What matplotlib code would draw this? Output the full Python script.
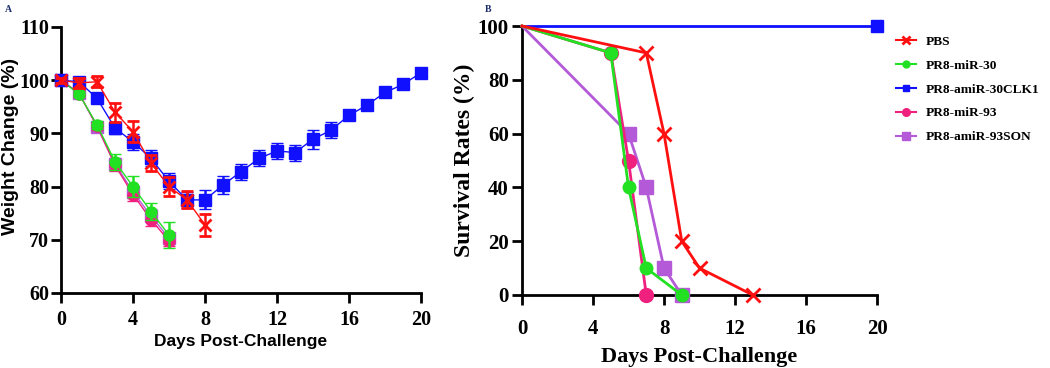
import matplotlib
matplotlib.use("Agg")
import matplotlib.pyplot as plt
import numpy as np

# ---------------- data ----------------
series_names = ["PBS", "PR8-miR-30", "PR8-amiR-30CLK1", "PR8-miR-93", "PR8-amiR-93SON"]
colors = {"PBS": "#ff1010", "PR8-miR-30": "#22e022", "PR8-amiR-30CLK1": "#1010ff",
          "PR8-miR-93": "#f0207f", "PR8-amiR-93SON": "#b45ad8"}
markers = {"PBS": "x", "PR8-miR-30": "o", "PR8-amiR-30CLK1": "s",
           "PR8-miR-93": "o", "PR8-amiR-93SON": "s"}

# Panel A: weight change (%)
w_days_pbs = [0, 1, 2, 3, 4, 5, 6, 7, 8]
w_pbs = [100, 99.5, 99.7, 94.0, 90.3, 84.4, 80.0, 77.5, 72.8]
w_pbs_err = [0.5, 1.0, 1.0, 1.8, 2.0, 1.5, 1.8, 1.6, 2.0]

w_days_short = [0, 1, 2, 3, 4, 5, 6]
w_mir30 = [100, 97.4, 91.6, 84.7, 80.0, 75.3, 70.9]
w_mir30_err = [0.5, 0.6, 0.8, 1.5, 2.0, 1.6, 2.4]
w_mir93 = [100, 97.5, 91.4, 84.0, 78.5, 73.8, 69.8]
w_mir93_err = [0.5, 0.6, 0.8, 1.0, 1.2, 1.2, 1.0]
w_son = [100, 97.6, 91.2, 84.3, 79.0, 74.5, 70.3]
w_son_err = [0.5, 0.6, 0.8, 1.0, 1.2, 1.2, 1.0]

w_days_clk = list(range(0, 21))
w_clk = [100, 99.7, 96.6, 91.0, 88.4, 85.3, 81.0, 77.5, 77.5, 80.3, 82.8,
         85.3, 86.7, 86.4, 88.9, 90.6, 93.4, 95.3, 97.7, 99.2, 101.4]
w_clk_err = [0.5, 0.8, 0.8, 1.2, 1.5, 1.5, 1.5, 1.5, 1.8, 1.6, 1.5,
             1.5, 1.5, 1.5, 1.8, 1.5, 0.8, 0.6, 0.5, 0.5, 0.5]

# Panel B: survival (%)
s_days_pbs = [0, 7, 8, 9, 10, 13]
s_pbs = [100, 90, 60, 20, 10, 0]
s_days_mir30 = [0, 5, 6, 7, 9]
s_mir30 = [100, 90, 40, 10, 0]
s_days_clk = [0, 20]
s_clk = [100, 100]
s_days_mir93 = [0, 5, 6, 7]
s_mir93 = [100, 90, 50, 0]
s_days_son = [0, 6, 7, 8, 9]
s_son = [100, 60, 40, 10, 0]

# ---------------- figure ----------------
fig = plt.figure(figsize=(10.5, 3.68), dpi=100)
serif = "Liberation Serif"
sans = "Liberation Sans"

axA = fig.add_axes([61/1050, 1-293/368, 360/1050, 266/368])
axB = fig.add_axes([522/1050, 1-295/368, 355/1050, 269/368])

def style(ax, size, xpad, ypad):
    for s in ["top", "right"]:
        ax.spines[s].set_visible(False)
    for s in ["left", "bottom"]:
        ax.spines[s].set_linewidth(2.0)
    ax.tick_params(direction="out", length=7, width=2.0)
    ax.tick_params(axis="x", pad=xpad)
    ax.tick_params(axis="y", pad=ypad)
    for lab in ax.get_xticklabels() + ax.get_yticklabels():
        lab.set_fontfamily(serif)
        lab.set_fontweight("bold")
        lab.set_fontsize(size)

# Panel A
def eb(ax, x, y, e, name, ms, lw=1.0, mew=1.0, z=2):
    ax.errorbar(x, y, yerr=e, color=colors[name], marker=markers[name], ms=ms,
                lw=lw, elinewidth=1.8, capsize=4, capthick=1.8, mew=mew,
                clip_on=False, zorder=z)

eb(axA, w_days_short, w_son, w_son_err, "PR8-amiR-93SON", 8, z=2)
eb(axA, w_days_short, w_mir93, w_mir93_err, "PR8-miR-93", 8, z=3)
eb(axA, w_days_short, w_mir30, w_mir30_err, "PR8-miR-30", 8, z=4)
eb(axA, w_days_clk, w_clk, w_clk_err, "PR8-amiR-30CLK1", 8, z=5)
eb(axA, w_days_pbs, w_pbs, w_pbs_err, "PBS", 8, mew=2.0, z=6)

axA.set_xlim(0, 20)
axA.set_ylim(60, 110)
axA.set_xticks([0, 4, 8, 12, 16, 20])
axA.set_yticks([60, 70, 80, 90, 100, 110])
style(axA, 14.5, 5, 1.5)
axA.set_xlabel("Days Post-Challenge", fontfamily=sans, fontweight="bold", fontsize=12.5, labelpad=3)
axA.set_ylabel("Weight Change (%)", fontfamily=sans, fontweight="bold", fontsize=14)
axA.yaxis.set_label_coords(-0.118, 0.55)

# Panel B
def ln(ax, x, y, name, ms, mew=1.0, markevery=None, z=2):
    return ax.plot(x, y, color=colors[name], marker=markers[name], ms=ms, lw=2.0,
                   mew=mew, markevery=markevery, clip_on=False, zorder=z, label=name)[0]

h = {}
h["PR8-amiR-30CLK1"] = ln(axB, s_days_clk, s_clk, "PR8-amiR-30CLK1", 9, markevery=[1], z=2)
h["PR8-amiR-93SON"] = ln(axB, s_days_son, s_son, "PR8-amiR-93SON", 10, markevery=list(range(1, len(s_days_son))), z=3)
h["PR8-miR-93"] = ln(axB, s_days_mir93, s_mir93, "PR8-miR-93", 10, markevery=list(range(1, len(s_days_mir93))), z=4)
h["PR8-miR-30"] = ln(axB, s_days_mir30, s_mir30, "PR8-miR-30", 9, markevery=list(range(1, len(s_days_mir30))), z=5)
h["PBS"] = ln(axB, s_days_pbs, s_pbs, "PBS", 10, mew=2.0, markevery=list(range(1, len(s_days_pbs))), z=6)

axB.set_xlim(0, 20)
axB.set_ylim(0, 100)
axB.set_xticks([0, 4, 8, 12, 16, 20])
axB.set_yticks([0, 20, 40, 60, 80, 100])
style(axB, 15, 10, 2.5)
axB.set_xlabel("Days Post-Challenge", fontfamily=serif, fontweight="bold", fontsize=16, labelpad=6)
axB.set_ylabel("Survival Rates (%)", fontfamily=serif, fontweight="bold", fontsize=17, labelpad=2)

leg = axB.legend([h[n] for n in series_names], series_names, loc="upper left",
                 bbox_to_anchor=(1.02, 1.01), frameon=False, handlelength=1.5,
                 markerscale=0.55, labelspacing=0.87, handletextpad=0.7,
                 prop={"family": serif, "weight": "bold", "size": 9.6})
for lh in leg.get_lines():
    lh.set_linewidth(1.5)

fig.text(5/1050, 1-9/368, "A", fontfamily=serif, fontweight="bold", fontsize=7, color="#1a2a6a", va="center")
fig.text(485/1050, 1-9/368, "B", fontfamily=serif, fontweight="bold", fontsize=7, color="#1a2a6a", va="center")

fig.savefig("out.png", dpi=100)
